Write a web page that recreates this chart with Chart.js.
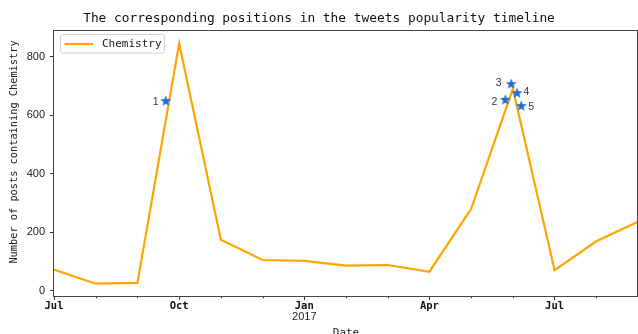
<!DOCTYPE html>
<html>
<head>
<meta charset="utf-8">
<script src="https://cdn.jsdelivr.net/npm/chart.js@4/dist/chart.umd.min.js"></script>
<style>
  html, body { margin: 0; padding: 0; background: #fff; }
  canvas { display: block; }
</style>
</head>
<body>
<canvas id="chart" width="638" height="334"></canvas>
<script>
// Monthly post counts, Jul 2016 .. Sep 2017
const months = ['2016-07', '2016-08', '2016-09', '2016-10', '2016-11', '2016-12',
                '2017-01', '2017-02', '2017-03', '2017-04', '2017-05', '2017-06',
                '2017-07', '2017-08', '2017-09'];
const posts = [72, 24, 27, 845, 174, 105, 102, 86, 88, 65, 280, 690, 70, 169, 236];

// Tick labels on the date axis (one per month, quarters labelled)
const monthTickLabels = ['Jul', '', '', 'Oct', '', '', 'Jan', '', '', 'Apr', '', '', 'Jul', '', ''];
const yearLabel = '2017';
const yearLabelMonth = 6;

// Marked tweet positions: month offset (fractional) and post count
const markNames = ['1', '2', '3', '4', '5'];
const markMonth = [2.68, 10.82, 10.96, 11.10, 11.20];
const markPosts = [648, 652, 706, 675, 631];

const yTicks = [0, 200, 400, 600, 800];

const ORANGE = '#FFA500';
const BLUE = '#1f6fd6';
const MONO = '"DejaVu Sans Mono", "Liberation Mono", monospace';
const SANS = '"Liberation Sans", Arial, sans-serif';

// filled five-point star marker
function makeStar(r, color) {
  const c = document.createElement('canvas');
  const s = Math.ceil(r * 2 + 2);
  c.width = s; c.height = s;
  const g = c.getContext('2d');
  const cx = s / 2, cy = s / 2, inner = r * 0.42;
  g.beginPath();
  for (let i = 0; i < 10; i++) {
    const rad = i % 2 === 0 ? r : inner;
    const a = -Math.PI / 2 + i * Math.PI / 5;
    const px = cx + rad * Math.cos(a), py = cy + rad * Math.sin(a);
    if (i === 0) g.moveTo(px, py); else g.lineTo(px, py);
  }
  g.closePath();
  g.fillStyle = color;
  g.fill();
  return c;
}
const starMarker = makeStar(5.8, BLUE);

// label offsets (px) of the mark numbers from their stars
const markLabelOffset = [[-10, 1], [-11, 2], [-12.5, -1], [9.5, -1.5], [10, 1]];

const decorations = {
  id: 'decorations',
  afterDraw(chart) {
    const { ctx, chartArea: a, scales } = chart;
    const x = scales.x, y = scales.y;
    ctx.save();

    // minor monthly ticks
    ctx.strokeStyle = '#333';
    ctx.lineWidth = 1;
    months.forEach((m, i) => {
      if (monthTickLabels[i] !== '') return;
      const px = Math.round(x.getPixelForValue(i)) + 0.5;
      ctx.beginPath();
      ctx.moveTo(px, a.bottom);
      ctx.lineTo(px, a.bottom + 2.2);
      ctx.stroke();
    });

    // axes frame
    ctx.strokeStyle = '#444';
    ctx.strokeRect(Math.round(a.left) - 0.5, Math.round(a.top) + 0.5,
                   Math.round(a.right - a.left), Math.round(a.bottom - a.top));

    // year under January
    ctx.fillStyle = '#222';
    ctx.font = '11px ' + SANS;
    ctx.textAlign = 'center';
    ctx.textBaseline = 'middle';
    ctx.fillText(yearLabel, x.getPixelForValue(yearLabelMonth), 317);

    // axis titles
    ctx.font = '11px ' + MONO;
    ctx.textBaseline = 'top';
    ctx.fillText('Date', (a.left + a.right) / 2, 327.5);

    ctx.save();
    ctx.translate(14, 152);
    ctx.rotate(-Math.PI / 2);
    ctx.font = '10.3px ' + MONO;
    ctx.textBaseline = 'middle';
    ctx.fillText('Number of posts containing Chemistry', 0, 0);
    ctx.restore();

    // legend
    const lx = 60.5, ly = 34.5, lw = 104, lh = 18.5;
    ctx.beginPath();
    ctx.roundRect(lx, ly, lw, lh, 2.5);
    ctx.fillStyle = 'rgba(255,255,255,0.85)';
    ctx.fill();
    ctx.strokeStyle = '#d0d0d0';
    ctx.stroke();
    ctx.beginPath();
    ctx.moveTo(64.5, 44);
    ctx.lineTo(93, 44);
    ctx.strokeStyle = ORANGE;
    ctx.lineWidth = 2.2;
    ctx.stroke();
    ctx.fillStyle = '#222';
    ctx.font = '11px ' + MONO;
    ctx.textAlign = 'left';
    ctx.textBaseline = 'middle';
    ctx.fillText(chart.data.datasets[0].label, 102, 44.5);

    // mark numbers
    ctx.font = '10.5px ' + SANS;
    ctx.fillStyle = '#333';
    ctx.textAlign = 'center';
    markNames.forEach((t, i) => {
      const px = x.getPixelForValue(markMonth[i]);
      const py = y.getPixelForValue(markPosts[i]);
      ctx.fillText(t, px + markLabelOffset[i][0], py + markLabelOffset[i][1]);
    });
    ctx.restore();
  }
};

new Chart(document.getElementById('chart'), {
  type: 'line',
  data: {
    datasets: [
      {
        label: 'Chemistry',
        data: posts.map((v, i) => ({ x: i, y: v })),
        borderColor: ORANGE,
        borderWidth: 2.2,
        pointRadius: 0,
        tension: 0,
        order: 2
      },
      {
        label: 'marks',
        data: markMonth.map((m, i) => ({ x: m, y: markPosts[i] })),
        showLine: false,
        pointStyle: starMarker,
        pointRadius: 6,
        order: 1
      }
    ]
  },
  options: {
    responsive: false,
    animation: false,
    devicePixelRatio: 1,
    layout: { autoPadding: false, padding: { left: 0, right: 0, top: 0, bottom: 0 } },
    plugins: {
      legend: { display: false },
      tooltip: { enabled: false },
      title: {
        display: true,
        text: 'The corresponding positions in the tweets popularity timeline',
        color: '#111',
        font: { family: MONO, size: 12.85, weight: 'normal' },
        padding: { top: 10.5, bottom: 4.1 }
      }
    },
    scales: {
      x: {
        type: 'linear',
        min: 0,
        max: months.length - 1,
        afterBuildTicks(scale) { scale.ticks = months.map((m, i) => ({ value: i })); },
        afterFit(scale) { scale.height = 38; },
        border: { display: false },
        grid: {
          drawOnChartArea: false,
          tickLength: 4,
          tickColor: ctx => (ctx.tick && monthTickLabels[ctx.tick.value] !== '') ? '#333' : 'rgba(0,0,0,0)'
        },
        ticks: {
          autoSkip: false,
          maxRotation: 0,
          padding: 0,
          color: '#111',
          font: { family: MONO, size: 10.5, weight: 'bold' },
          callback: v => monthTickLabels[v] ?? ''
        }
      },
      y: {
        type: 'linear',
        min: -18,
        max: 891,
        afterBuildTicks(scale) { scale.ticks = yTicks.map(v => ({ value: v })); },
        afterFit(scale) { scale.width = 54; },
        border: { display: false },
        grid: { drawOnChartArea: false, tickLength: 4, tickColor: '#333' },
        ticks: {
          padding: 5,
          color: '#222',
          font: { family: SANS, size: 11 }
        }
      }
    }
  },
  plugins: [decorations]
});
</script>
</body>
</html>
